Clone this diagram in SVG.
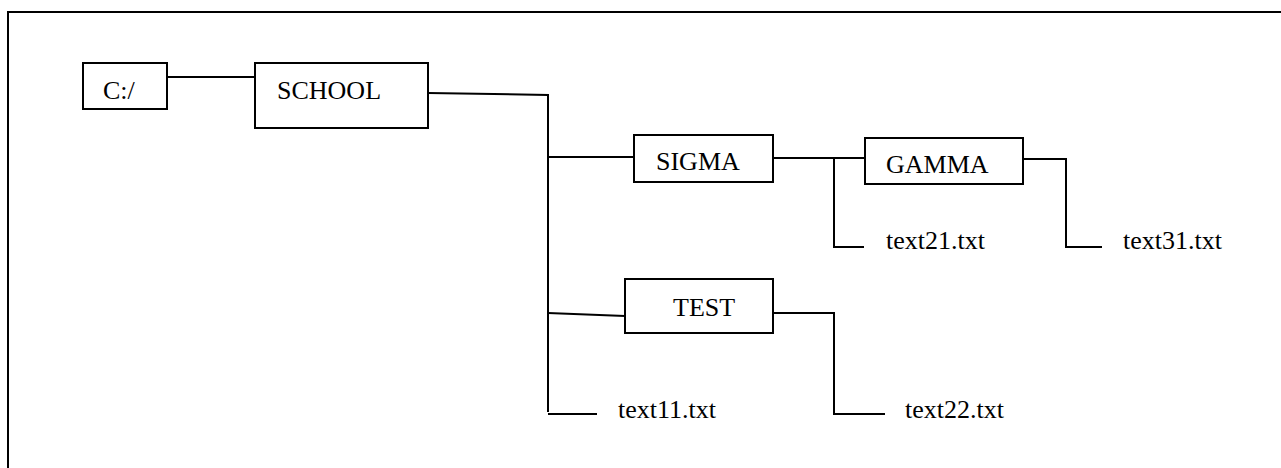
<svg xmlns="http://www.w3.org/2000/svg" width="1281" height="468" viewBox="0 0 1281 468">
<style>
.box{fill:#fff;stroke:#000;stroke-width:2}
.ln{fill:none;stroke:#000;stroke-width:2}
</style>
<rect width="1281" height="468" fill="#fff"/>
<path class="ln" d="M8,468 V12 H1281"/>
<g id="connectors">
<path class="ln" d="M167,77 H255"/>
<path class="ln" d="M428,93 L548,95 V412"/>
<path class="ln" d="M548,157 H634"/>
<path class="ln" d="M548,313 L625,316"/>
<path class="ln" d="M548,414 H597"/>
<path class="ln" d="M773,158 H865"/>
<path class="ln" d="M834,158 V247 H864"/>
<path class="ln" d="M1023,159 H1066 V247 H1102"/>
<path class="ln" d="M773,313 H834 V414 H885"/>
</g>
<g font-family="'Liberation Serif', 'Times New Roman', serif" font-size="26" fill="#000">
<g id="c"><rect class="box" x="83" y="63" width="84" height="46"/><text x="103" y="99">C:/</text></g>
<g id="school"><rect class="box" x="255" y="63" width="173" height="65"/><text x="277" y="99">SCHOOL</text></g>
<g id="sigma"><rect class="box" x="634" y="135" width="139" height="47"/><text x="656" y="170">SIGMA</text></g>
<g id="gamma"><rect class="box" x="865" y="138" width="158" height="46"/><text x="886" y="173">GAMMA</text></g>
<g id="test"><rect class="box" x="625" y="279" width="148" height="54"/><text x="673" y="316">TEST</text></g>
<g id="text21"><text x="886" y="249">text21.txt</text></g>
<g id="text31"><text x="1123" y="249">text31.txt</text></g>
<g id="text11"><text x="618" y="418">text11.txt</text></g>
<g id="text22"><text x="905" y="418">text22.txt</text></g>
</g>
</svg>
